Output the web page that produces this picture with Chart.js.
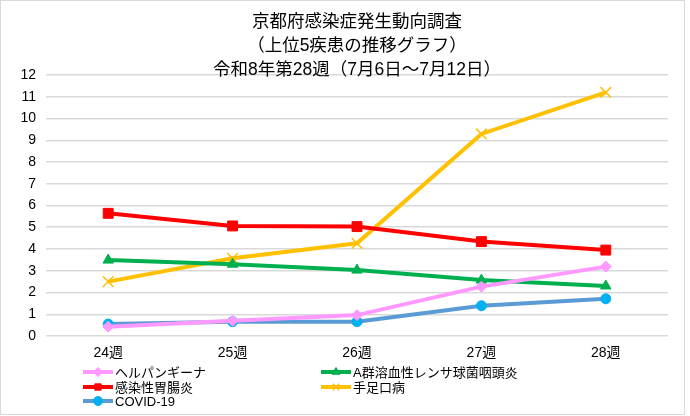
<!DOCTYPE html>
<html>
<head>
<meta charset="utf-8">
<script src="https://cdn.jsdelivr.net/npm/chart.js@4/dist/chart.umd.min.js"></script>
<style>
  html, body { margin: 0; padding: 0; background: #fff; }
  #wrap { width: 690px; height: 416px; }
</style>
</head>
<body>
<div id="wrap"><canvas id="chart" width="690" height="416"></canvas></div>
<script>
    "use strict";

    // データ
    const weeks = ['24週', '25週', '26週', '27週', '28週'];
    const herpangina = [0.43, 0.70, 0.96, 2.27, 3.19];
    const strepA = [3.49, 3.30, 3.03, 2.57, 2.30];
    const gastro = [5.64, 5.06, 5.03, 4.34, 3.95];
    const hfmd = [2.50, 3.57, 4.26, 9.29, 11.20];
    const covid = [0.55, 0.66, 0.66, 1.39, 1.71];
    const titleLines = ['京都府感染症発生動向調査', '（上位5疾患の推移グラフ）', '令和8年第28週（7月6日～7月12日）'];

    const FONT = "'Liberation Sans', 'Noto Sans CJK JP', sans-serif";

    function series(label, data, line, fill, style, radius) {
        return {
            label: label,
            data: data,
            borderColor: line,
            backgroundColor: fill,
            pointBackgroundColor: fill,
            pointBorderColor: fill,
            pointStyle: style,
            pointRadius: radius,
            pointHoverRadius: radius,
            pointBorderWidth: style === 'crossRot' ? 1.5 : 1,
            borderWidth: 4,
            tension: 0,
            fill: false
        };
    }

    const data = {
        labels: weeks,
        datasets: [
            series('ヘルパンギーナ', herpangina, '#ff99ff', '#ff99ff', 'rectRot', 5.5),
            series('A群溶血性レンサ球菌咽頭炎', strepA, '#00b050', '#00b050', 'triangle', 6),
            series('感染性胃腸炎', gastro, '#ff0000', '#ff0000', 'rect', 7),
            series('手足口病', hfmd, '#ffc000', '#ffc000', 'crossRot', 7.5),
            series('COVID-19', covid, '#5b9bd5', '#00b0f0', 'circle', 5)
        ]
    };

    // 枠・タイトル・凡例を描く
    const decor = {
        id: 'decor',
        beforeDraw: function (chart) {
            const ctx = chart.ctx;
            ctx.save();
            ctx.fillStyle = '#fff';
            ctx.fillRect(0, 0, chart.width, chart.height);
            ctx.strokeStyle = '#d9d9d9';
            ctx.lineWidth = 1;
            ctx.strokeRect(0.5, 0.5, 684, 414);
            ctx.restore();
        },
        afterDraw: function (chart) {
            const ctx = chart.ctx;
            ctx.save();
            ctx.fillStyle = '#000';
            ctx.textAlign = 'center';
            ctx.textBaseline = 'middle';
            ctx.font = '17.5px ' + FONT;
            const ty = [22, 46, 70];
            titleLines.forEach(function (t, i) { ctx.fillText(t, 357, ty[i]); });

            const cols = [83, 321];
            const rows = [372, 387, 401];
            ctx.font = '13px ' + FONT;
            ctx.textAlign = 'left';
            chart.data.datasets.forEach(function (ds, i) {
                const x = cols[i % 2];
                const y = rows[Math.floor(i / 2)];
                ctx.strokeStyle = ds.borderColor;
                ctx.lineWidth = 4;
                ctx.beginPath();
                ctx.moveTo(x, y);
                ctx.lineTo(x + 30, y);
                ctx.stroke();
                ctx.fillStyle = ds.pointBackgroundColor;
                ctx.strokeStyle = ds.pointBorderColor;
                ctx.lineWidth = ds.pointBorderWidth;
                Chart.helpers.drawPoint(ctx, { pointStyle: ds.pointStyle, radius: 4.5, borderWidth: ds.pointBorderWidth }, x + 15, y);
                ctx.fillStyle = '#000';
                ctx.fillText(ds.label, x + 32, y + 1);
            });
            ctx.restore();
        }
    };

    const options = {
        responsive: false,
        animation: false,
        layout: { padding: { top: 75, left: 0, right: 22, bottom: 56 } },
        plugins: {
            legend: { display: false },
            title: { display: false },
            tooltip: { enabled: false }
        },
        scales: {
            x: {
                offset: true,
                grid: { display: false, drawTicks: false },
                border: { display: false },
                ticks: { color: '#000', font: { family: FONT, size: 14 }, padding: 9, maxRotation: 0 },
                afterFit: function (scale) { scale.height = 24; }
            },
            y: {
                min: 0,
                max: 12,
                ticks: { stepSize: 1, color: '#000', font: { family: FONT, size: 14 }, padding: 10 },
                grid: { color: '#d9d9d9', lineWidth: 1.5, drawTicks: false },
                border: { display: false },
                afterFit: function (scale) { scale.width = 46; }
            }
        }
    };

    new Chart(document.getElementById('chart'), {
        type: 'line',
        data: data,
        options: options,
        plugins: [decor]
    });
</script>
</body>
</html>
